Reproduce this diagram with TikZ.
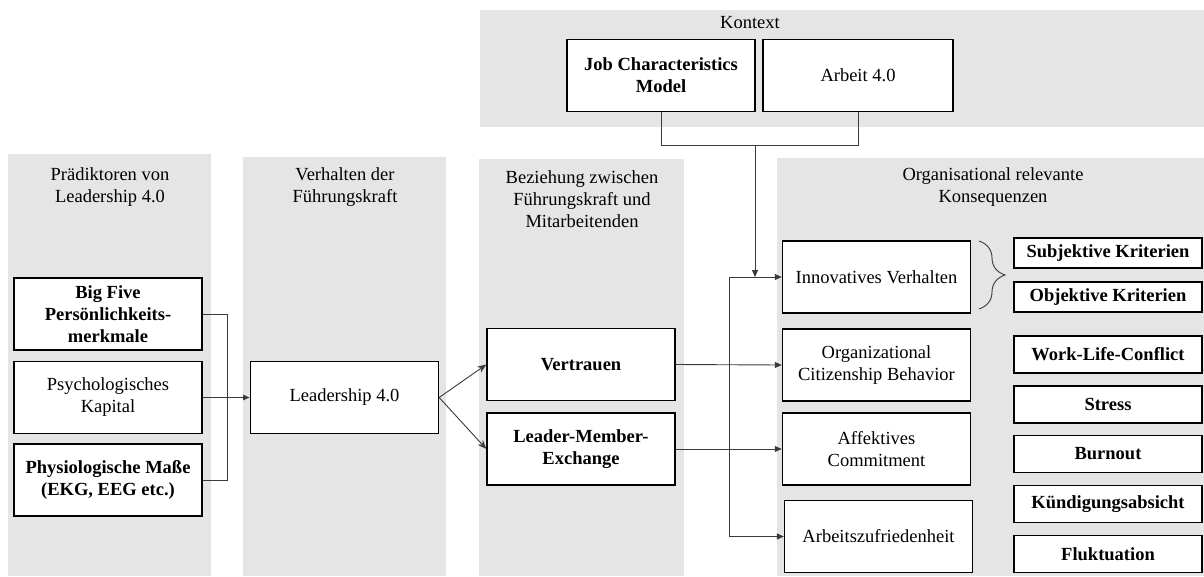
\documentclass[tikz,border=0pt]{standalone}
\usepackage{fontspec}
\setmainfont{Liberation Serif}
\newfontfamily\tnrfont{Liberation Serif}
\usetikzlibrary{arrows.meta,decorations.pathreplacing}
\definecolor{panelgray}{HTML}{E5E5E5}
\definecolor{linegray}{HTML}{3A3A3A}

\begin{document}
\begin{tikzpicture}[x=1pt,y=-1pt,
    box/.style={draw=black,line width=1.3pt,fill=white,align=center,inner sep=2pt,
        minimum width=188pt,minimum height=72pt,font=\tnrfont\fontsize{18.5}{22}\selectfont},
    sbox/.style={box,minimum height=30pt},
    mbox/.style={box,minimum height=37pt},
    title/.style={align=center,font=\tnrfont\fontsize{18.5}{22}\selectfont},
    conn/.style={linegray,line width=0.9pt},
    arr/.style={conn,-{Triangle[length=7pt,width=6pt]}}]
    \useasboundingbox (0,0) rectangle (1204,576);

    % Panels
    \fill[panelgray] (8,154) rectangle (211,576);
    \fill[panelgray] (243,157) rectangle (446,576);
    \fill[panelgray] (479,159) rectangle (684,576);
    \fill[panelgray] (777,158) rectangle (1204,576);
    \fill[panelgray] (480,10) rectangle (1204,127);

    \node[title] (tkon) at (750,23) {Kontext};
    \node[title] (tpra) at (110,187) {Prädiktoren von\\Leadership 4.0};
    \node[title] (tver) at (345,187) {Verhalten der\\Führungskraft};
    \node[title] (tbez) at (582,199) {Beziehung zwischen\\Führungskraft und\\Mitarbeitenden};
    \node[title] (tkons) at (993,187) {Organisational relevante\\Konsequenzen};

    % Context
    \node[box] (jcm) at (661,75.5) {\bfseries Job Characteristics\\\bfseries Model};
    \node[box,minimum width=190pt] (arb) at (858,75.5) {Arbeit 4.0};

    % Predictors and leadership
    \node[box] (pbig) at (108,314) {\bfseries Big Five\\\bfseries Persönlichkeits-\\\bfseries merkmale};
    \node[box] (ppsy) at (108,397.5) {Psychologisches\\Kapital};
    \node[box] (pphy) at (108,480) {\bfseries Physiologische Maße\\\bfseries (EKG, EEG etc.)};
    \node[box] (lead) at (344.5,397.5) {Leadership 4.0};

    % Relationship
    \node[box] (vert) at (581,364.5) {\bfseries Vertrauen};
    \node[box] (lmx) at (581,449) {\bfseries Leader-Member-\\\bfseries Exchange};

    % Consequences
    \node[box] (innov) at (876.5,277) {Innovatives Verhalten};
    \node[box] (ocb) at (876.5,365) {Organizational\\Citizenship Behavior};
    \node[box] (affc) at (876.5,449) {Affektives\\Commitment};
    \node[box] (azuf) at (878.5,536.5) {Arbeitszufriedenheit};

    \node[sbox] (subj) at (1108,253) {\bfseries Subjektive Kriterien};
    \node[sbox] (obj) at (1108,297) {\bfseries Objektive Kriterien};
    \node[mbox] (wlc) at (1108,354.5) {\bfseries Work-Life-Conflict};
    \node[mbox] (stress) at (1108,404.5) {\bfseries Stress};
    \node[mbox] (burn) at (1108,454) {\bfseries Burnout};
    \node[mbox] (kuend) at (1108,504) {\bfseries Kündigungsabsicht};
    \node[mbox] (fluk) at (1108,554) {\bfseries Fluktuation};

    % Joints
    \coordinate (pjoin) at (227,397.5);
    \coordinate (kjoin) at (755,145);
    \coordinate (bus) at (729,277);
    \coordinate (brtop) at (979,241);
    \coordinate (brbot) at (979,309);

    % Connectors
    \draw[conn] (pbig.east) -| (pjoin);
    \draw[conn] (pphy.east) -| (pjoin);
    \draw[conn] (jcm.south) |- (kjoin);
    \draw[conn] (arb.south) |- (kjoin);
    \draw[conn,decorate,decoration={brace,amplitude=26pt}] (brtop) -- (brbot);

    \path
	(ppsy.east) [arr,black,line width=1.2pt] edge (lead.west)
	(lead.east) [-{Stealth[length=9pt,width=7pt]},black,line width=1.6pt] edge (vert.west)
	(lead.east) [-{Stealth[length=9pt,width=7pt]},black,line width=1.6pt] edge (lmx.west)
	(vert.east) [arr,black,line width=1pt] edge (ocb.west)
	(lmx.east) [arr,black,line width=1pt] edge (affc.west)
	(kjoin) [arr] edge (kjoin |- bus)
	(bus) [arr,black,line width=1pt] edge (innov.west)
	(bus) [arr] edge [to path={|- (\tikztotarget)}] (azuf.west);
\end{tikzpicture}
\end{document}
